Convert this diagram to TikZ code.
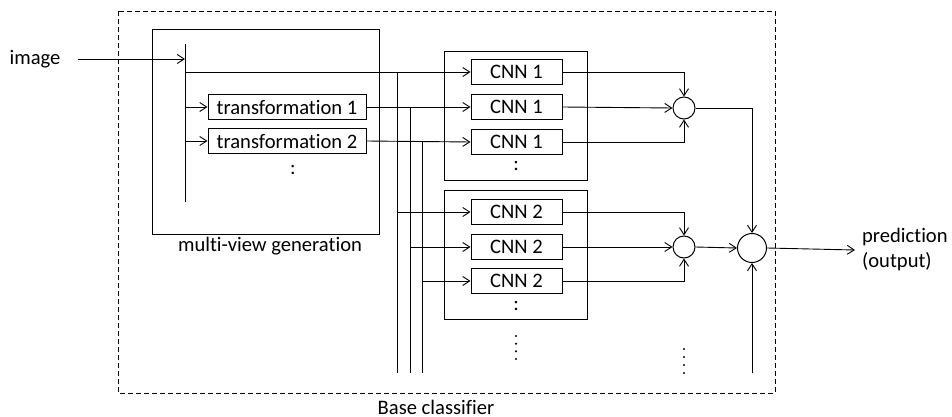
\documentclass[tikz,border=0pt]{standalone}
\usepackage{fontspec}
\setmainfont{Carlito}[Ligatures=NoCommon]
\usetikzlibrary{arrows.meta}
\begin{document}
\begin{tikzpicture}[x=0.5pt,y=-0.5pt,line width=0.45pt,
  font=\fontsize{10.3}{12.5}\selectfont,
  >={Straight Barb[length=3.5pt,width=4.5pt]},
  blk/.style={draw,line width=0.5pt,minimum height=12.5pt,inner sep=0pt},
  sum/.style={draw,line width=0.5pt,circle,inner sep=0pt}]
\useasboundingbox (0,0) rectangle (952,417);
% frames
\draw[dash pattern=on 2.5pt off 1.5pt] (118,11) rectangle (775,393);
\node (base) at (436,407) {Base classifier};
\draw (152,29) rectangle (379,234);
\node (mvgen) at (270,246) {multi-view generation};
\draw (444,51) rectangle (587,180);
\draw (444,190) rectangle (587,319);
% input
\node (image) at (35,59) {image};
\coordinate (vtop) at (185,44);
\coordinate (vbot) at (185,202);
\draw (vtop) -- (vbot);
\draw[->] ([xshift=5pt]image.east) -- (image.east -| vtop);
% transformations
\node[blk,minimum width=79pt] (t1) at (287,107) {transformation 1};
\node[blk,minimum width=79pt] (t2) at (287,141) {transformation 2};
\node (tdots) at (293,170) {:};
\draw[->] (t1.west -| vtop) -- (t1.west);
\draw[->] (t2.west -| vtop) -- (t2.west);
% CNNs
\node[blk,minimum width=45.5pt] (c11) at (516.5,72) {CNN 1};
\node[blk,minimum width=45.5pt] (c12) at (516.5,107) {CNN 1};
\node[blk,minimum width=45.5pt] (c13) at (516.5,142) {CNN 1};
\node (cdots1) at (516,166) {:};
\node[blk,minimum width=45.5pt] (c21) at (516.5,212) {CNN 2};
\node[blk,minimum width=45.5pt] (c22) at (516.5,247) {CNN 2};
\node[blk,minimum width=45.5pt] (c23) at (516.5,281) {CNN 2};
\node (cdots2) at (516,306) {:};
\draw[->] (vtop |- c11.west) -- (c11.west);
\draw[->] (t1.east) -- (c12.west);
\draw[->] (t2.east) -- (c13.west);
% bus
\coordinate (b1) at (397,373);
\coordinate (b2) at (410,373);
\coordinate (b3) at (422,373);
\draw (b1 |- c11.west) -- (b1);
\draw (b2 |- c12.west) -- (b2);
\draw (b3 |- c13.west) -- (b3);
\draw[->] (b1 |- c21.west) -- (c21.west);
\draw[->] (b2 |- c22.west) -- (c22.west);
\draw[->] (b3 |- c23.west) -- (c23.west);
% combination
\node[sum,minimum size=11pt] (s1) at (684,108) {};
\node[sum,minimum size=11pt] (s2) at (684,247) {};
\node[sum,minimum size=14.5pt] (s) at (752,248) {};
\draw[->] (c11.east) -| (s1.north);
\draw[->] (c12.east) -- (s1.west);
\draw[->] (c13.east) -| (s1.south);
\draw[->] (c21.east) -| (s2.north);
\draw[->] (c22.east) -- (s2.west);
\draw[->] (c23.east) -| (s2.south);
\draw[->] (s1.east) -| (s.north);
\draw[->] (s2.east) -- (s.west);
\coordinate (sin) at (752,373);
\draw[->] (sin) -- (s.south);
% output
\node[anchor=west,align=left] (pred) at (855,250) {prediction\\(output)};
\draw[->] (s.east) -- (pred.west);
% more dots
\foreach \y in {336,343.7,351.3,359} \fill (516,\y) circle (0.6pt);
\foreach \y in {349,357,365,373} \fill (684,\y) circle (0.6pt);
\end{tikzpicture}
\end{document}
